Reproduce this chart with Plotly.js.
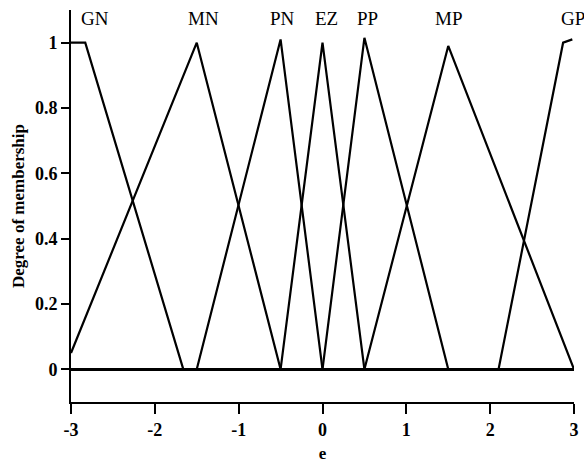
<!DOCTYPE html>
<html>
<head>
<meta charset="utf-8">
<script src="https://cdn.plot.ly/plotly-3.0.1.min.js"></script>
<style>html,body{margin:0;padding:0;background:#fff;}#chart{width:584px;height:464px;}</style>
</head>
<body>
<div id="chart"></div>
<script>
// Membership function vertices for the error variable e
const setNames = ['GN', 'MN', 'PN', 'EZ', 'PP', 'MP', 'GP'];
const gnX = [-3, -2.83, -1.66];  const gnY = [1, 1, 0];
const mnX = [-3, -1.5, -0.5];    const mnY = [0.05, 1, 0];
const pnX = [-1.5, -0.5, 0];     const pnY = [0, 1.01, 0];
const ezX = [-0.5, 0, 0.5];      const ezY = [0, 1, 0];
const ppX = [0, 0.5, 1.5];       const ppY = [0, 1.015, 0];
const mpX = [0.5, 1.5, 3];       const mpY = [0, 0.99, 0];
const gpX = [2.1, 2.87, 2.98];   const gpY = [0, 1, 1.01];
// Label positions above each set
const labelX = [-2.71, -1.42, -0.48, 0.05, 0.54, 1.5, 2.99];
const labelY = 1.075;
const xTicks = [-3, -2, -1, 0, 1, 2, 3];
const xTickText = ['-3', '-2', '-1', '0', '1', '2', '3'];
const yTicks = [0, 0.2, 0.4, 0.6, 0.8, 1];
const yTickText = ['0', '0.2', '0.4', '0.6', '0.8', '1'];

const seriesX = [gnX, mnX, pnX, ezX, ppX, mpX, gpX];
const seriesY = [gnY, mnY, pnY, ezY, ppY, mpY, gpY];

const serif = 'Liberation Serif, Times New Roman, serif';

const traces = seriesX.map((xs, i) => ({
  x: xs, y: seriesY[i], name: setNames[i],
  type: 'scatter', mode: 'lines',
  line: {color: '#000', width: 2.2},
  cliponaxis: false,
  hoverinfo: 'skip'
}));

const annotations = setNames.map((n, i) => ({
  x: labelX[i], y: labelY, xref: 'x', yref: 'y',
  text: n, showarrow: false,
  font: {family: serif, size: 19, color: '#000'}
}));

const layout = {
  width: 584, height: 464,
  margin: {l: 71, r: 10, t: 10, b: 62},
  paper_bgcolor: '#fff', plot_bgcolor: '#fff',
  showlegend: false,
  annotations: annotations,
  xaxis: {
    range: [-3, 3],
    tickvals: xTicks, ticktext: xTickText,
    ticks: 'outside', ticklen: 10, tickwidth: 2, tickcolor: '#000',
    showline: true, linecolor: '#000', linewidth: 2,
    showgrid: false, zeroline: false,
    tickfont: {family: serif, size: 18, color: '#000', weight: 'bold'},
    title: {text: 'e', standoff: 9, font: {family: serif, size: 17, color: '#000', weight: 'bold'}}
  },
  yaxis: {
    range: [-0.1, 1.1],
    tickvals: yTicks, ticktext: yTickText,
    ticks: 'outside', ticklen: 8, tickwidth: 2, tickcolor: '#000',
    showline: true, linecolor: '#000', linewidth: 2,
    showgrid: false,
    zeroline: true, zerolinecolor: '#000', zerolinewidth: 2.5,
    tickfont: {family: serif, size: 18, color: '#000', weight: 'bold'},
    title: {text: 'Degree of membership', standoff: 6, font: {family: serif, size: 17, color: '#000', weight: 'bold'}}
  }
};

Plotly.newPlot('chart', traces, layout, {displayModeBar: false, staticPlot: true});
</script>
</body>
</html>
